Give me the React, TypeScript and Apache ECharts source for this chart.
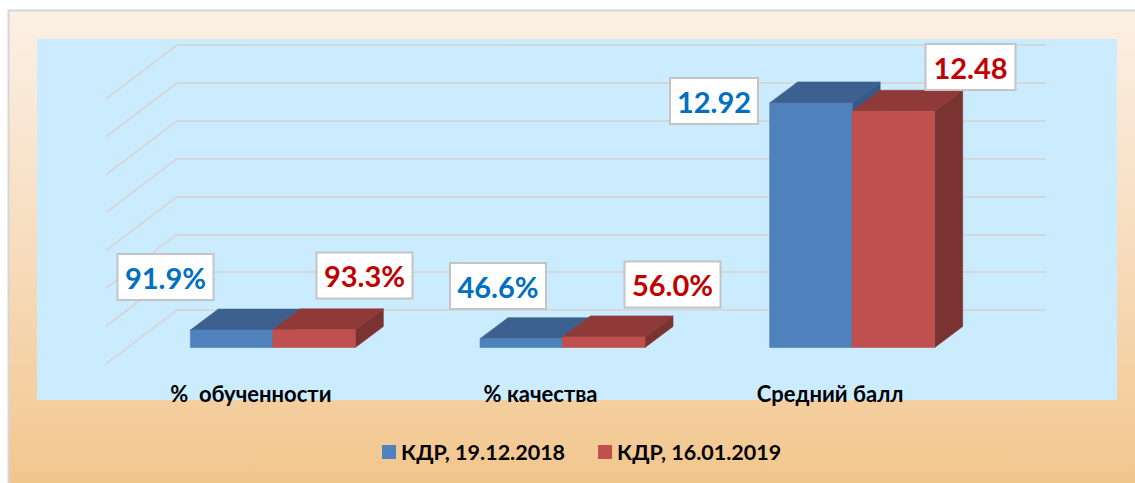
import React, { useEffect, useRef } from "react";
import * as echarts from "echarts";

const categories = ["%  обученности", "% качества", "Средний балл"];
const seriesNames = ["КДР, 19.12.2018", "КДР, 16.01.2019"];
const blueValues = [0.919, 0.466, 12.92];
const redValues = [0.933, 0.56, 12.48];
const blueLabels = ["91.9%", "46.6%", "12.92"];
const redLabels = ["93.3%", "56.0%", "12.48"];
const yTicks = [0, 2, 4, 6, 8, 10, 12, 14];

const FONT = "Lato, 'Open Sans', 'Noto Sans', sans-serif";

// Oblique projection of the 3D chart, in pixels
const WALL_DX = 71;
const WALL_DY = 54;
const BAR_PLANE_DX = 49;
const BAR_PLANE_DY = 37.5;
const BAR_DEPTH_DX = 28;
const BAR_DEPTH_DY = 21;
const BAR_WIDTH = 82.5;

const blueColors = { front: "#4f81bd", top: "#3d618e", side: "#37598a" };
const redColors = { front: "#c0504d", top: "#8f3a38", side: "#7b3331" };

// Hand-placed callouts: box centre x, centre y, box width
const blueBoxes = [[165.5, 277, 94], [498, 286, 94], [714, 101, 86]];
const redBoxes = [[364.5, 275.5, 94], [672.5, 284.5, 94], [970.5, 67, 88]];

function barRender(colors: { front: string; top: string; side: string }, side: number) {
  return (_: any, api: any) => {
    const cat = api.value(0);
    const v = api.value(1);
    const top = api.coord([cat, v]);
    const base = api.coord([cat, 0]);
    const x0 = top[0] - BAR_PLANE_DX + (side < 0 ? -BAR_WIDTH : 0);
    const x1 = x0 + BAR_WIDTH;
    const yt = top[1] + BAR_PLANE_DY;
    const yb = base[1] + BAR_PLANE_DY;
    const dx = BAR_DEPTH_DX;
    const dy = BAR_DEPTH_DY;
    const poly = (points: number[][], fill: string) => ({
      type: "polygon",
      shape: { points },
      style: { fill, stroke: fill, lineWidth: 0.6 },
    });
    return {
      type: "group",
      children: [
        poly([[x1, yt], [x1 + dx, yt - dy], [x1 + dx, yb - dy], [x1, yb]], colors.side),
        poly([[x0, yt], [x0 + dx, yt - dy], [x1 + dx, yt - dy], [x1, yt]], colors.top),
        poly([[x0, yt], [x1, yt], [x1, yb], [x0, yb]], colors.front),
      ],
    };
  };
}

function labelRender(labels: string[], color: string, boxes: number[][]) {
  return (params: any, api: any) => {
    const box = boxes[api.value(0)];
    return {
      type: "text",
      z2: 10,
      x: box[0],
      y: box[1],
      style: {
        text: labels[params.dataIndex],
        fill: color,
        font: `bold 29px ${FONT}`,
        align: "center",
        verticalAlign: "middle",
        backgroundColor: "#ffffff",
        borderColor: "#c2c4c5",
        borderWidth: 2,
        width: box[2],
        height: 44,
        lineHeight: 44,
      },
    };
  };
}

export default function App() {
  const ref = useRef<HTMLDivElement>(null);
  useEffect(() => {
    const chart = echarts.init(ref.current!, undefined, { renderer: "svg" });
    const catIdx = categories.map((_, i) => i);
    chart.setOption({
      animation: false,
      textStyle: { fontFamily: FONT },
      graphic: [
        {
          type: "rect",
          z: -2,
          shape: { x: 8.5, y: 10.5, width: 1130, height: 480 },
          style: {
            stroke: "#d6d6d6",
            lineWidth: 2,
            fill: new echarts.graphic.LinearGradient(0, 0, 0, 1, [
              { offset: 0, color: "#fbf0e5" },
              { offset: 0.5, color: "#f7dcbd" },
              { offset: 1, color: "#f2c68c" },
            ]),
          },
        },
        {
          type: "rect",
          z: -1,
          shape: { x: 37, y: 39, width: 1080, height: 361 },
          style: { fill: "#cbebff" },
        },
      ],
      legend: {
        left: 382,
        top: 441,
        padding: 0,
        itemWidth: 14,
        itemHeight: 14,
        itemGap: 33,
        icon: "rect",
        selectedMode: false,
        textStyle: { fontFamily: FONT, fontWeight: "bold", fontSize: 21.5, color: "#000" },
        data: seriesNames.map((n, i) => ({ name: n, itemStyle: { color: i ? redColors.front : blueColors.front } })),
      },
      grid: [
        { left: 177, right: 89, top: 45, bottom: 173 },
        { left: 106, right: 160, top: 45, bottom: 119 },
      ],
      xAxis: [
        { type: "category", gridIndex: 0, data: categories, show: false },
        {
          type: "category",
          gridIndex: 1,
          z: 6,
          data: categories,
          axisLine: { show: false },
          axisTick: { show: false },
          axisLabel: { margin: 18, fontFamily: FONT, fontWeight: "bold", fontSize: 22, color: "#000" },
        },
      ],
      yAxis: [
        {
          type: "value",
          gridIndex: 0,
          min: 0,
          max: 14,
          interval: 2,
          axisLine: { show: false },
          axisTick: { show: false },
          axisLabel: { show: false },
          splitLine: { show: true, lineStyle: { color: "#d5d8da", width: 2 } },
        },
        { type: "value", gridIndex: 1, show: false, splitLine: { show: false } },
      ],
      series: [
        {
          type: "custom",
          name: "walls",
          silent: true,
          xAxisIndex: 0,
          yAxisIndex: 0,
          z: 2,
          data: yTicks.map((t) => [0, t]),
          renderItem: (params: any, api: any) => {
            const y = api.coord([0, api.value(1)])[1];
            const x = params.coordSys.x;
            return {
              type: "line",
              shape: { x1: x, y1: y, x2: x - WALL_DX, y2: y + WALL_DY },
              style: { stroke: "#d5d8da", lineWidth: 2 },
            };
          },
        },
        {
          type: "custom",
          name: seriesNames[0],
          xAxisIndex: 0,
          yAxisIndex: 0,
          z: 3,
          data: catIdx.map((i) => [i, blueValues[i]]),
          renderItem: barRender(blueColors, -1),
        },
        {
          type: "custom",
          name: seriesNames[1],
          xAxisIndex: 0,
          yAxisIndex: 0,
          z: 4,
          data: catIdx.map((i) => [i, redValues[i]]),
          renderItem: barRender(redColors, 1),
        },
        {
          type: "custom",
          name: "blueLabels",
          silent: true,
          xAxisIndex: 0,
          yAxisIndex: 0,
          z: 5,
          data: catIdx.map((i) => [i, blueValues[i]]),
          renderItem: labelRender(blueLabels, "#0070c0", blueBoxes),
        },
        {
          type: "custom",
          name: "redLabels",
          silent: true,
          xAxisIndex: 0,
          yAxisIndex: 0,
          z: 5,
          data: catIdx.map((i) => [i, redValues[i]]),
          renderItem: labelRender(redLabels, "#c00000", redBoxes),
        },
      ],
    });
    return () => chart.dispose();
  }, []);
  return <div ref={ref} style={{ position: "absolute", left: 0, top: 0, width: 1135, height: 483 }} />;
}
